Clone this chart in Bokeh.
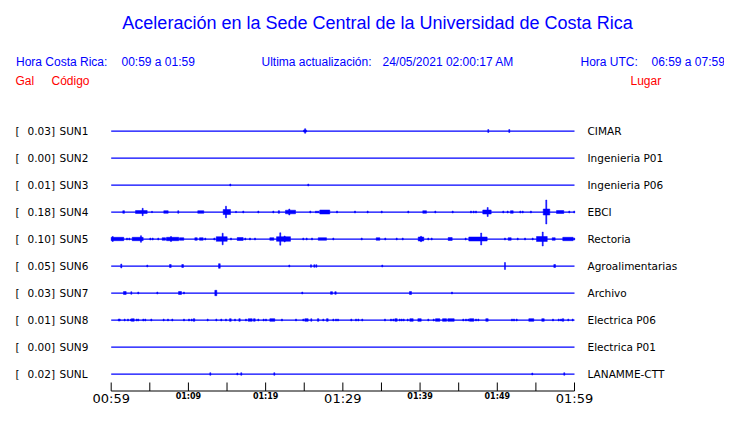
from bokeh.plotting import figure
from bokeh.models import Range1d, ColumnDataSource
from bokeh.core.properties import value
from bokeh.embed import file_html
from bokeh.resources import INLINE

# ---------------- data ----------------
codes = ["SUN1", "SUN2", "SUN3", "SUN4", "SUN5", "SUN6", "SUN7", "SUN8", "SUN9", "SUNL"]
peaks = ["0.03", "0.00", "0.01", "0.18", "0.10", "0.05", "0.03", "0.01", "0.00", "0.02"]
places = ["CIMAR", "Ingenieria P01", "Ingenieria P06", "EBCI", "Rectoria",
          "Agroalimentarias", "Archivo", "Electrica P06", "Electrica P01", "LANAMME-CTT"]

# time axis: minutes after 00:59 (local time)
tick_minutes = [0, 5, 10, 15, 20, 25, 30, 35, 40, 45, 50, 55, 60]
label_minutes = [0, 10, 20, 30, 40, 50, 60]
tick_labels = ["00:59", "01:09", "01:19", "01:29", "01:39", "01:49", "01:59"]
label_major = [True, False, False, True, False, False, True]

# events per station: (start minute, end minute, relative amplitude)
ev_SUN1 = [(24.9, 25.3, 1.0), (25.05, 25.05, 2.3), (48.77, 48.77, 1.5), (51.49, 51.49, 1.5)]
ev_SUN2 = []
ev_SUN3 = [(15.36, 15.36, 1), (25.46, 25.46, 1)]
ev_SUN4 = [(1.50, 1.72, 1.3), (3.15, 4.66, 1.5), (4.01, 4.01, 3.7), (5.22, 5.22, 0.7),
           (6.81, 7.38, 1.3), (8.62, 8.62, 1.3), (11.21, 11.99, 1.3), (14.50, 15.45, 2.5),
           (14.80, 14.80, 5.8), (16.10, 16.10, 0.7), (17.04, 17.04, 1), (18.99, 18.99, 1),
           (20.93, 20.93, 1), (21.63, 21.80, 1.3), (22.57, 23.87, 1.8), (23.0, 23.0, 3),
           (25.72, 25.72, 1), (26.46, 26.46, 1), (26.72, 26.72, 1), (27.01, 28.31, 2),
           (29.18, 29.18, 1), (31.51, 31.51, 1), (33.15, 33.15, 1), (34.97, 34.97, 1),
           (38.41, 38.41, 1), (40.35, 40.83, 1.3), (41.91, 41.91, 1), (44.16, 44.16, 1),
           (46.53, 46.53, 1), (46.88, 46.88, 1), (47.18, 47.18, 1), (48.12, 49.21, 2),
           (48.69, 48.69, 4.5), (50.71, 50.71, 1), (51.28, 51.28, 1), (51.71, 52.06, 1.3),
           (52.92, 52.92, 1), (53.23, 53.23, 1), (54.29, 54.29, 1), (55.95, 56.80, 3),
           (56.28, 56.28, 12), (57.67, 58.61, 1.5), (59.26, 59.26, 1), (59.9, 59.9, 1)]
ev_SUN5 = [(0.0, 1.63, 1.7), (0.13, 0.13, 2.5), (1.98, 1.98, 1), (2.28, 2.28, 1),
           (2.72, 4.14, 1.7), (3.79, 3.79, 3.3), (5.0, 5.0, 1), (5.31, 5.31, 1),
           (6.03, 6.03, 1), (6.60, 7.03, 1.3), (7.16, 8.75, 1.7), (7.68, 7.68, 2.5),
           (8.85, 9.40, 1.3), (10.83, 11.14, 1.3), (11.44, 11.91, 1.3), (12.12, 12.12, 1),
           (13.29, 13.29, 1), (13.60, 15.02, 2.3), (14.37, 14.37, 5.8), (15.45, 15.45, 1),
           (16.32, 17.09, 1.5), (17.30, 17.30, 1), (17.91, 17.91, 1), (18.56, 18.56, 1),
           (20.54, 21.06, 1.3), (21.41, 23.22, 2.3), (21.83, 21.83, 6.2), (22.4, 22.4, 3),
           (24.81, 24.81, 1), (25.25, 25.25, 1), (25.94, 25.94, 1), (26.81, 27.88, 1.3),
           (28.70, 28.70, 1), (32.38, 32.38, 1), (34.32, 34.79, 1.3), (35.43, 35.43, 1),
           (36.91, 36.91, 1), (37.69, 37.69, 1), (39.76, 40.48, 2), (40.06, 40.06, 2.7),
           (41.0, 41.0, 1), (41.44, 41.44, 1), (43.64, 44.16, 1.5), (45.84, 45.84, 1),
           (46.31, 48.69, 2), (47.85, 47.85, 6), (50.93, 50.93, 1), (51.41, 51.80, 1.3),
           (52.58, 52.58, 1), (53.53, 53.53, 1), (54.52, 54.52, 1), (55.08, 56.47, 2.5),
           (55.82, 55.82, 7), (57.11, 57.50, 1.3), (58.48, 59.83, 1.7), (59.9, 59.9, 1)]
ev_SUN6 = [(1.24, 1.24, 2), (4.61, 4.61, 1), (7.55, 7.77, 1.5), (9.14, 9.36, 1.5),
           (13.90, 14.12, 2.3), (23.0, 23.0, 1), (25.81, 25.81, 1.3), (26.24, 26.24, 1.3),
           (26.50, 26.50, 1.3), (35.04, 35.04, 1), (50.93, 50.93, 3.5), (57.32, 57.54, 1.5)]
ev_SUN7 = [(1.59, 1.94, 1.5), (2.54, 2.54, 1.3), (3.44, 3.44, 1), (5.91, 5.91, 1),
           (8.72, 9.10, 1.5), (9.36, 9.36, 1), (13.42, 13.68, 2.7), (24.68, 24.68, 1),
           (28.40, 28.66, 1.3), (28.96, 29.14, 1.3), (38.63, 38.89, 1.5), (44.07, 44.07, 1)]
ev_SUN8 = [(0.91, 1.17, 1), (1.68, 1.68, 1), (2.11, 2.11, 1), (2.50, 2.50, 1),
           (2.63, 2.98, 1.3), (3.24, 3.24, 1), (3.44, 3.44, 1), (4.09, 4.09, 1),
           (4.35, 4.35, 1), (5.13, 5.13, 1), (6.73, 6.73, 1), (7.29, 7.29, 1),
           (7.85, 7.85, 1), (9.36, 9.36, 1), (10.01, 10.01, 1), (10.36, 10.36, 1),
           (10.62, 10.83, 1.3), (12.43, 12.43, 1), (13.55, 13.55, 1), (14.19, 14.19, 1),
           (14.80, 14.80, 1), (15.32, 15.54, 1.3), (15.97, 15.97, 1), (16.53, 16.71, 1.3),
           (17.39, 17.39, 1), (17.74, 18.26, 1.3), (18.43, 18.65, 1.3), (18.99, 18.99, 1),
           (19.68, 19.68, 1), (19.98, 19.98, 1), (20.54, 21.19, 1.3), (22.05, 22.05, 1),
           (23.87, 23.87, 1), (24.81, 24.81, 1), (25.07, 25.51, 1.3), (25.85, 25.98, 1.3),
           (26.70, 26.90, 1.3), (27.40, 27.40, 1), (27.88, 28.10, 1.3), (28.70, 28.70, 1),
           (29.05, 29.05, 1), (29.31, 29.31, 1), (31.03, 31.03, 1), (31.64, 31.64, 1),
           (31.94, 31.94, 1), (32.45, 32.45, 1), (35.39, 35.39, 1), (36.17, 36.17, 1),
           (36.47, 36.47, 1), (36.73, 37.04, 1.3), (37.30, 37.30, 1), (37.56, 37.56, 1),
           (37.82, 37.82, 1), (38.33, 38.33, 1), (38.67, 39.11, 1.3), (39.71, 40.15, 1.3),
           (41.0, 41.0, 1), (41.70, 41.70, 1), (42.0, 42.56, 1.3), (42.91, 43.43, 1.3),
           (43.59, 44.42, 1.3), (45.53, 45.53, 1), (45.88, 45.88, 1), (46.18, 46.18, 1),
           (46.40, 46.96, 1.3), (47.18, 47.18, 1), (47.48, 47.48, 1), (48.51, 48.82, 1.3),
           (51.84, 51.84, 1), (52.10, 52.10, 1), (52.45, 52.45, 1), (54.08, 54.73, 1.3),
           (55.76, 56.08, 1.3), (57.15, 57.15, 1), (57.89, 57.89, 1), (58.19, 58.19, 1),
           (58.41, 58.61, 1.3), (59.13, 59.13, 1), (59.70, 59.70, 1)]
ev_SUN9 = []
ev_SUNL = [(12.77, 12.77, 1.3), (16.27, 16.27, 1), (16.78, 16.78, 1.3), (21.06, 21.06, 1.3),
           (54.47, 54.47, 1), (58.61, 58.61, 1.3)]
events = [ev_SUN1, ev_SUN2, ev_SUN3, ev_SUN4, ev_SUN5, ev_SUN6, ev_SUN7, ev_SUN8, ev_SUN9, ev_SUNL]

title = "Aceleración en la Sede Central de la Universidad de Costa Rica"

# ---------------- layout ----------------
W, H = 724, 407
PX0 = 110.7        # canvas x of minute 0
PPM = 7.7217       # pixels per minute
def px2min(px):
    return (px - PX0) / PPM

ROW0, ROWSTEP = 130.5, 27.0
AXIS_Y = 390.5

p = figure(width=W, height=H, output_backend="svg", toolbar_location=None,
           x_range=Range1d(px2min(0), px2min(W)), y_range=Range1d(H, 0),
           min_border=0, x_axis_location=None, y_axis_location=None,
           outline_line_color=None, background_fill_color="white",
           border_fill_color="white")
p.xgrid.visible = False
p.ygrid.visible = False

BLUE = "#0000FF"
RED = "#FF0000"

# title and header
p.text(x=[px2min(377)], y=[22.5], text=[title], text_font=value("Liberation Sans"),
       text_font_size="18px", text_color=BLUE, text_align="center", text_baseline="middle")
hdr = [(15.5, "Hora Costa Rica:"), (121, "00:59 a 01:59"),
       (261, "Ultima actualización:"), (382, "24/05/2021 02:00:17 AM"),
       (580, "Hora UTC:"), (651, "06:59 a 07:59")]
p.text(x=[px2min(h[0]) for h in hdr], y=[61] * len(hdr), text=[h[1] for h in hdr],
       text_font=value("Liberation Sans"), text_font_size="12px", text_color=BLUE,
       text_baseline="middle")
red = [(15, "Gal"), (51, "Código"), (630, "Lugar")]
p.text(x=[px2min(r[0]) for r in red], y=[80] * 3, text=[r[1] for r in red],
       text_font=value("Liberation Sans"), text_font_size="12px", text_color=RED,
       text_baseline="middle")

# rows
bases = [ROW0 + ROWSTEP * i for i in range(len(codes))]
p.segment(x0=[0] * len(bases), x1=[60] * len(bases), y0=bases, y1=bases,
          line_color=BLUE, line_width=1.25)

L, R, B, T = [], [], [], []
for base, evs in zip(bases, events):
    for t0, t1, a in evs:
        w = max(t1 - t0, 0.13)
        L.append(t0)
        R.append(t0 + w)
        B.append(base + a)
        T.append(base - a)
src = ColumnDataSource(dict(left=L, right=R, bottom=B, top=T))
p.quad(left="left", right="right", bottom="bottom", top="top", source=src,
       fill_color=BLUE, line_color=BLUE, line_width=0.5)

lab_font = value("DejaVu Sans")
lab_size = "10.5px"
p.text(x=[px2min(15)] * len(bases), y=bases, text=["["] * len(bases), text_font=lab_font,
       text_font_size=lab_size, text_color="black", text_baseline="middle")
p.text(x=[px2min(27)] * len(bases), y=bases, text=[v + "]" for v in peaks], text_font=lab_font,
       text_font_size=lab_size, text_color="black", text_baseline="middle")
p.text(x=[px2min(59)] * len(bases), y=bases, text=codes, text_font=lab_font,
       text_font_size=lab_size, text_color="black", text_baseline="middle")
p.text(x=[px2min(587)] * len(bases), y=bases, text=places, text_font=lab_font,
       text_font_size=lab_size, text_color="black", text_baseline="middle")

# time axis
p.segment(x0=[tick_minutes[0]], x1=[tick_minutes[-1]], y0=[AXIS_Y], y1=[AXIS_Y],
          line_color="black", line_width=1)
p.segment(x0=tick_minutes, x1=tick_minutes, y0=[AXIS_Y] * len(tick_minutes),
          y1=[AXIS_Y - 8.5] * len(tick_minutes), line_color="black", line_width=1)
maj_x = [m for m, big in zip(label_minutes, label_major) if big]
maj_t = [t for t, big in zip(tick_labels, label_major) if big]
min_x = [m for m, big in zip(label_minutes, label_major) if not big]
min_t = [t for t, big in zip(tick_labels, label_major) if not big]
p.text(x=maj_x, y=[AXIS_Y + 7.5] * len(maj_x), text=maj_t, text_font=lab_font,
       text_font_size="13px", text_color="black", text_align="center",
       text_baseline="middle")
p.text(x=min_x, y=[AXIS_Y + 5.5] * len(min_x), text=min_t, text_font=lab_font,
       text_font_size="8px", text_font_style="bold", text_color="black",
       text_align="center", text_baseline="middle")

open("out.html", "w").write(file_html(p, INLINE))
